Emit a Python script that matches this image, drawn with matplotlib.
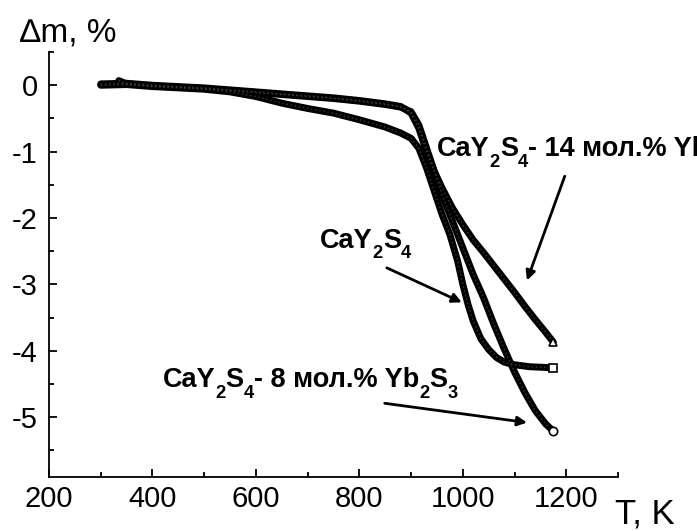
#Curvas de perdida de masa (TG) para CaY2S4 y CaY2S4 - Yb2S3

import matplotlib.pyplot as plt
from matplotlib import transforms
from matplotlib.ticker import MultipleLocator

# ------------------------
# Datos
# ------------------------

# CaY2S4 (cuadrados)
T_cuad = [300, 350, 400, 450, 500, 550, 600, 650, 700, 750, 800, 850, 880, 900,
          915, 930, 945, 960, 975, 990, 1000, 1010, 1020, 1035, 1050, 1065, 1080,
          1100, 1130, 1160, 1175]
dm_cuad = [0.0, 0.01, -0.02, -0.04, -0.06, -0.1, -0.17, -0.27, -0.35, -0.42, -0.52,
           -0.63, -0.72, -0.8, -0.95, -1.25, -1.6, -1.95, -2.25, -2.65, -3.0, -3.3,
           -3.55, -3.82, -3.98, -4.1, -4.17, -4.21, -4.24, -4.25, -4.26]

# CaY2S4 - 8 mol.% Yb2S3 (circulos)
T_circ = [335, 350, 400, 450, 500, 550, 600, 650, 700, 750, 800, 850, 880, 900,
          915, 930, 945, 960, 980, 1000, 1020, 1040, 1060, 1080, 1100, 1120, 1140,
          1160, 1175]
dm_circ = [0.07, 0.02, -0.01, -0.03, -0.05, -0.08, -0.11, -0.14, -0.17, -0.2, -0.24,
           -0.29, -0.33, -0.4, -0.6, -0.95, -1.3, -1.65, -2.05, -2.45, -2.85, -3.2,
           -3.6, -3.97, -4.32, -4.63, -4.9, -5.1, -5.21]

# CaY2S4 - 14 mol.% Yb2S3 (triangulos)
T_tri = [300, 350, 400, 450, 500, 550, 600, 650, 700, 750, 800, 850, 880, 900,
         915, 930, 945, 960, 980, 1000, 1020, 1040, 1060, 1080, 1100, 1120, 1140,
         1160, 1175]
dm_tri = [0.02, 0.03, 0.0, -0.02, -0.04, -0.07, -0.1, -0.13, -0.16, -0.19, -0.23,
          -0.28, -0.32, -0.42, -0.65, -1.0, -1.3, -1.55, -1.85, -2.1, -2.33, -2.52,
          -2.72, -2.92, -3.12, -3.33, -3.53, -3.72, -3.87]

# rotulos: (texto, es_subindice)
rotulo_14 = [('CaY', False), ('2', True), ('S', False), ('4', True),
             ('- 14 мол.% Yb', False), ('2', True), ('S', False), ('3', True)]
rotulo_0 = [('CaY', False), ('2', True), ('S', False), ('4', True)]
rotulo_8 = [('CaY', False), ('2', True), ('S', False), ('4', True),
            ('- 8 мол.% Yb', False), ('2', True), ('S', False), ('3', True)]

# ------------------------
# Figura
# ------------------------

plt.rcParams['font.family'] = ['Liberation Sans', 'DejaVu Sans']
plt.rcParams['axes.unicode_minus'] = False

fig = plt.figure(figsize=(6.97, 5.31), dpi=100)
ax = fig.add_axes([0.0703, 0.1017, 0.8164, 0.8003])

for T, dm, mk in [(T_cuad, dm_cuad, 's'), (T_circ, dm_circ, 'o'), (T_tri, dm_tri, '^')]:
    ax.plot(T, dm, color='black', lw=5, solid_capstyle='round', zorder=2)
    ax.plot(T, dm, color='#3a3a3a', lw=1.0, ls=(0, (1, 2)), zorder=3)
    ax.plot(T[-1], dm[-1], marker=mk, ms=6, mfc='white', mec='black', mew=1.2,
            ls='none', zorder=4)

ax.set_xlim(200, 1300)
ax.set_ylim(-5.9, 0.5)
ax.xaxis.set_major_locator(MultipleLocator(200))
ax.xaxis.set_minor_locator(MultipleLocator(100))
ax.yaxis.set_major_locator(MultipleLocator(1))
ax.yaxis.set_minor_locator(MultipleLocator(0.5))
ax.spines['top'].set_visible(False)
ax.spines['right'].set_visible(False)
ax.spines['left'].set_linewidth(1.3)
ax.spines['bottom'].set_linewidth(1.3)
ax.tick_params(which='both', direction='in', width=1.3, labelsize=21)
ax.tick_params(which='major', length=6)
ax.tick_params(which='minor', length=3.5)
ax.tick_params(axis='y', pad=8)
ax.tick_params(axis='x', pad=6)

fig.text(20/697, 1 - 42/531, '∆m, %', fontsize=24, va='baseline', ha='left')
fig.text(615/697, 1 - 524/531, 'T, K', fontsize=25, va='baseline', ha='left')

# ------------------------
# Rotulos y flechas
# ------------------------

renderer = fig.canvas.get_renderer()

def escribir(x, y, partes, size=19.5):
    dx = 0.0
    for s, sub in partes:
        fs = size * 0.68 if sub else size
        dy = -size * 0.38 if sub else 0.0
        tr = transforms.offset_copy(ax.transData, fig=fig, x=dx, y=dy, units='points')
        t = ax.text(x, y, s, transform=tr, fontsize=fs, fontweight='bold',
                    va='baseline', ha='left')
        dx += t.get_window_extent(renderer).width * 72 / fig.dpi

escribir(950, -1.07, rotulo_14)
escribir(724, -2.45, rotulo_0)
escribir(420, -4.55, rotulo_8)

flecha = dict(arrowstyle='-|>', color='black', lw=2, mutation_scale=14, shrinkA=0, shrinkB=0)
ax.annotate('', xy=(1124, -2.94), xytext=(1197, -1.37), arrowprops=flecha)
ax.annotate('', xy=(998, -3.27), xytext=(853, -2.75), arrowprops=flecha)
ax.annotate('', xy=(1124, -5.08), xytext=(849, -4.79), arrowprops=flecha)

plt.savefig('out.png', dpi=100)
